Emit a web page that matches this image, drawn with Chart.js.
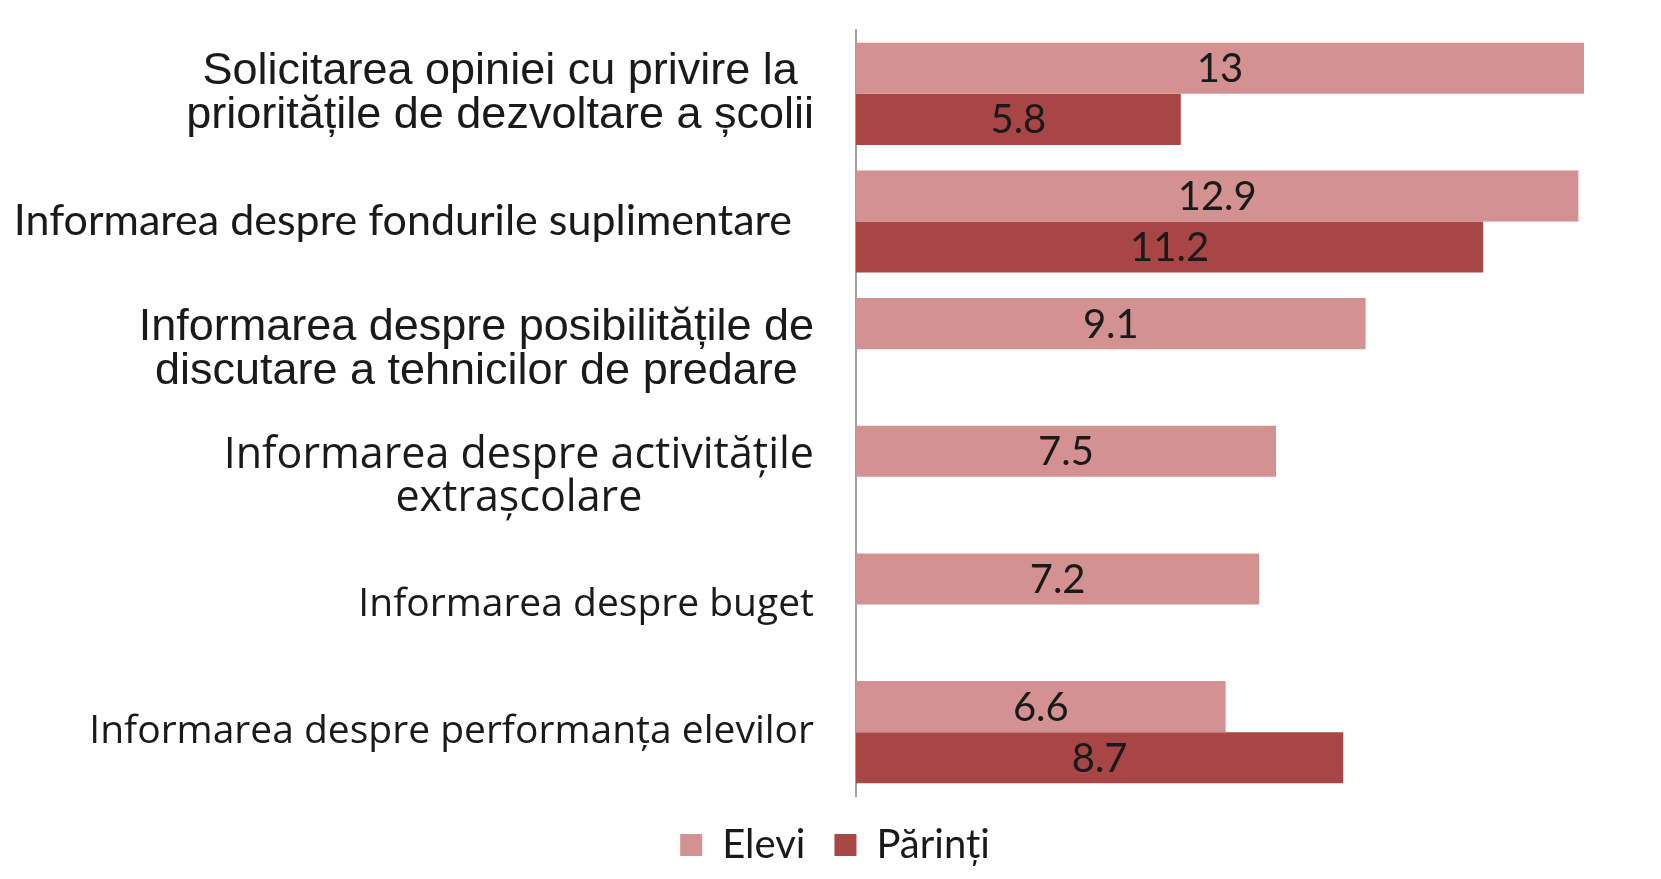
<!DOCTYPE html>
<html>
<head>
<meta charset="utf-8">
<script src="https://cdn.jsdelivr.net/npm/chart.js@4/dist/chart.umd.min.js"></script>
<style>
  html, body { margin: 0; padding: 0; background: #ffffff; }
  #wrap { width: 1661px; height: 879px; }
</style>
</head>
<body>
<div id="wrap"><canvas id="barChart" width="1661" height="879"></canvas></div>
<script>
// category labels (one entry per line)
const categories = [
    ["Solicitarea opiniei cu privire la", "prioritățile de dezvoltare a școlii"],
    ["Informarea despre fondurile suplimentare  "],
    ["Informarea despre posibilitățile de", "discutare a tehnicilor de predare"],
    ["Informarea despre activitățile", "extrașcolare"],
    ["Informarea despre buget"],
    ["Informarea despre performanța elevilor"]
];
const seriesNames = ["Elevi", "Părinți"];
const elevi = [13, 12.9, 9.1, 7.5, 7.2, 6.6];
const parinti = [5.8, 11.2, null, null, null, 8.7];

// fonts used for each category label (the original mixes a few)
const labelFonts = [
    { font: "45px 'Liberation Sans', Arial, sans-serif", lineHeight: 44 },
    { font: "43px Lato, sans-serif", lineHeight: 44 },
    { font: "45px 'Liberation Sans', Arial, sans-serif", lineHeight: 44 },
    { font: "43px 'Open Sans', sans-serif", lineHeight: 43 },
    { font: "39px 'Open Sans', sans-serif", lineHeight: 43 },
    { font: "39px 'Open Sans', sans-serif", lineHeight: 43 }
];

// draws the category labels to the left of the axis, lines centred on each other
const categoryLabels = {
    id: "categoryLabels",
    afterDraw(chart) {
        const ctx = chart.ctx;
        const yScale = chart.scales.y;
        const rightEdge = chart.chartArea.left - 42;
        ctx.save();
        ctx.fillStyle = "#1a1a1a";
        ctx.textBaseline = "middle";
        ctx.textAlign = "center";
        categories.forEach((lines, i) => {
            const f = labelFonts[i];
            ctx.font = f.font;
            const maxW = Math.max(...lines.map(l => ctx.measureText(l).width));
            const cx = rightEdge - maxW / 2;
            const cy = yScale.getPixelForValue(i);
            const startY = cy - (lines.length - 1) * f.lineHeight / 2;
            lines.forEach((line, j) => {
                ctx.fillText(line, cx, startY + j * f.lineHeight);
            });
        });
        ctx.restore();
    }
};

// value labels centred inside each bar
const valueLabels = {
    id: "valueLabels",
    afterDatasetsDraw(chart) {
        const ctx = chart.ctx;
        ctx.save();
        ctx.font = "40px Lato, sans-serif";
        ctx.fillStyle = "#1a1a1a";
        ctx.textAlign = "center";
        ctx.textBaseline = "middle";
        chart.data.datasets.forEach((ds, di) => {
            const meta = chart.getDatasetMeta(di);
            meta.data.forEach((bar, i) => {
                const v = ds.data[i];
                if (v === null || v === undefined) return;
                ctx.fillText(String(v), (bar.x + bar.base) / 2, bar.y + 1);
            });
        });
        ctx.restore();
    }
};

const ctx = document.getElementById("barChart").getContext("2d");
const chart = new Chart(ctx, {
    type: "bar",
    data: {
        labels: categories.map(c => c.join(" ")),
        datasets: [{
            label: seriesNames[0],
            data: elevi,
            backgroundColor: "#d39191",
            categoryPercentage: 0.8,
            barPercentage: 1.0
        }, {
            label: seriesNames[1],
            data: parinti,
            backgroundColor: "#a84545",
            categoryPercentage: 0.8,
            barPercentage: 1.0
        }]
    },
    options: {
        indexAxis: "y",
        responsive: false,
        animation: false,
        layout: { padding: { left: 30, right: 21, top: 30, bottom: 4 } },
        plugins: {
            legend: {
                position: "bottom",
                labels: {
                    color: "#1a1a1a",
                    font: { family: "Lato, sans-serif", size: 40 },
                    boxWidth: 22,
                    boxHeight: 22,
                    padding: 29
                }
            },
            tooltip: { enabled: false }
        },
        scales: {
            x: { display: false, min: 0, max: 14 },
            y: {
                ticks: { display: false },
                grid: { display: false },
                border: { display: true, color: "#a0a0a0", width: 2 },
                afterFit: s => { s.width = 826; }
            }
        }
    },
    plugins: [categoryLabels, valueLabels]
});
</script>
</body>
</html>
